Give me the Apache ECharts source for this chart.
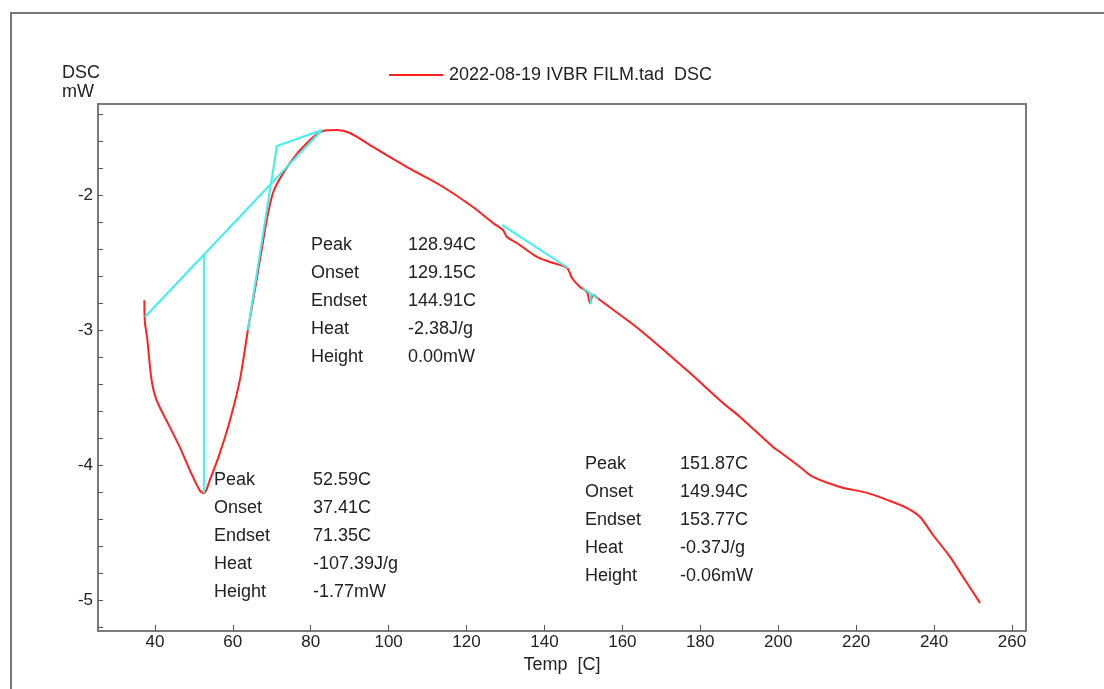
<!DOCTYPE html>
<html>
<head>
<meta charset="utf-8">
<title>DSC</title>
<script src="https://cdn.jsdelivr.net/npm/echarts@6/dist/echarts.min.js"></script>
<style>
  html, body { margin: 0; padding: 0; background: #fff; }
  #chart { width: 1104px; height: 689px; }
</style>
</head>
<body>
<div id="chart"></div>
<script>
// DSC curve (temperature in C, heat flow in mW)
const tempC = [37.3, 37.43, 38.02, 39.15, 40.44, 43.85, 46.42, 48.99, 51.55, 52.58, 54.12, 56.69, 59.26, 61.82, 63.88,
  66.11, 66.96, 70.3, 74.66, 79.02, 83.13, 86.73, 90.06, 95.97, 104.7, 113.17, 121.64, 126.78, 129.35, 130.37,
  132.94, 138.07, 141.4, 145.78, 147.06, 149.11, 150.91, 151.68, 152.5, 154.25, 160.15, 164.52, 171.45, 177.36,
  185.83, 190.2, 198.67, 200.46, 205.6, 208.94, 215.87, 222.8, 227.93, 233.07, 236.4, 239.74, 244.1, 247.44, 251.8];
const dscMW = [-2.78, -2.94, -3.06, -3.37, -3.52, -3.72, -3.87, -4.04, -4.19, -4.21, -4.11, -3.91, -3.67, -3.37, -3.0,
  -2.63, -2.48, -1.985, -1.763, -1.615, -1.526, -1.519, -1.541, -1.644, -1.793, -1.926, -2.089, -2.207, -2.259, -2.311,
  -2.356, -2.459, -2.496, -2.54, -2.615, -2.681, -2.719, -2.8, -2.74, -2.778, -2.904, -3.0, -3.17, -3.319,
  -3.541, -3.644, -3.867, -3.904, -4.015, -4.089, -4.163, -4.207, -4.259, -4.319, -4.385, -4.519, -4.681, -4.83, -5.022];

// analysis construction lines (cyan)
const base1 = [[37.43, -2.904], [82.87, -1.519]];
const peak1Drop = [[52.58, -2.444], [52.58, -4.21]];
const tangent1 = [[63.88, -3.0], [71.32, -1.637], [82.87, -1.519]];
const base2 = [[129.09, -2.222], [146.04, -2.541]];
const base3 = [[149.88, -2.689], [153.73, -2.77]];
const peak3Drop = [[151.87, -2.735], [151.87, -2.81]];

const xTicks = [40, 60, 80, 100, 120, 140, 160, 180, 200, 220, 240, 260];
const yLabels = [-5, -4, -3, -2];
const yTicks = [-5.2, -5, -4.8, -4.6, -4.4, -4.2, -4, -3.8, -3.6, -3.4, -3.2, -3, -2.8, -2.6, -2.4, -2.2, -2, -1.8, -1.6, -1.4];

const legendName = '2022-08-19 IVBR FILM.tad  DSC';

const result1 = [['Peak', '128.94C'], ['Onset', '129.15C'], ['Endset', '144.91C'], ['Heat', '-2.38J/g'], ['Height', '0.00mW']];
const result2 = [['Peak', '52.59C'], ['Onset', '37.41C'], ['Endset', '71.35C'], ['Heat', '-107.39J/g'], ['Height', '-1.77mW']];
const result3 = [['Peak', '151.87C'], ['Onset', '149.94C'], ['Endset', '153.77C'], ['Heat', '-0.37J/g'], ['Height', '-0.06mW']];

const family = '"Liberation Sans", Arial, sans-serif';
const font = '18px ' + family;
const textColor = '#222';

function resultBlock(rows, x1, x2, y0, step) {
  let out = [];
  rows.forEach((r, i) => {
    out.push({ type: 'text', style: { x: x1, y: y0 + i * step, text: r[0], font: font, fill: textColor, verticalAlign: 'middle' } });
    out.push({ type: 'text', style: { x: x2, y: y0 + i * step, text: r[1], font: font, fill: textColor, verticalAlign: 'middle' } });
  });
  return out;
}

function cyan(data) {
  return {
    type: 'line', data: data, showSymbol: false, symbol: 'none', silent: true,
    lineStyle: { color: '#3ff0f0', width: 2 }, z: 3
  };
}

let myChart = echarts.init(document.getElementById('chart'));

let option = {
  animation: false,
  backgroundColor: '#fff',
  grid: {
    left: 98, top: 104, right: 78, bottom: 58,
    show: true, borderColor: '#7a7a7a', borderWidth: 2
  },
  legend: {
    data: [legendName],
    left: 384, top: 61,
    icon: 'rect', itemWidth: 54, itemHeight: 2,
    textStyle: { fontSize: 18, fontFamily: family, color: textColor, padding: [0, 0, 0, 1] }
  },
  xAxis: {
    type: 'value',
    min: 25.4, max: 263.6,
    name: 'Temp  [C]', nameLocation: 'middle', nameGap: 24,
    nameTextStyle: { fontSize: 18, fontFamily: family, color: textColor },
    splitLine: { show: false },
    axisLine: { lineStyle: { color: '#7a7a7a', width: 2 } },
    axisTick: { inside: true, length: 6, customValues: xTicks, lineStyle: { color: '#555' } },
    axisLabel: { customValues: xTicks, fontSize: 17, fontFamily: family, color: textColor, margin: 3 }
  },
  yAxis: {
    type: 'value',
    min: -5.23, max: -1.326,
    splitLine: { show: false },
    axisLine: { show: true, lineStyle: { color: '#7a7a7a', width: 2 } },
    axisTick: { inside: true, length: 5, customValues: yTicks, lineStyle: { color: '#555' } },
    axisLabel: { customValues: yLabels, fontSize: 17, fontFamily: family, color: textColor, margin: 5 }
  },
  graphic: [
    { type: 'rect', shape: { x: 11, y: 13, width: 1200, height: 800 }, style: { fill: 'none', stroke: '#777', lineWidth: 2 }, z: -1 },
    { type: 'text', style: { x: 62, y: 64, text: 'DSC\nmW', font: font, fill: textColor, lineHeight: 19 } }
  ].concat(resultBlock(result1, 311, 408, 245, 28))
   .concat(resultBlock(result2, 214, 313, 480, 28))
   .concat(resultBlock(result3, 585, 680, 464, 28)),
  series: [
    {
      name: legendName,
      type: 'line',
      data: tempC.map((t, i) => [t, dscMW[i]]),
      showSymbol: false, symbol: 'none',
      smooth: 0.3,
      lineStyle: { color: '#ff2020', width: 2 },
      itemStyle: { color: '#ff2020' },
      z: 2
    },
    cyan(base1), cyan(peak1Drop), cyan(tangent1), cyan(base2), cyan(base3), cyan(peak3Drop)
  ]
};

myChart.setOption(option);
</script>
</body>
</html>
